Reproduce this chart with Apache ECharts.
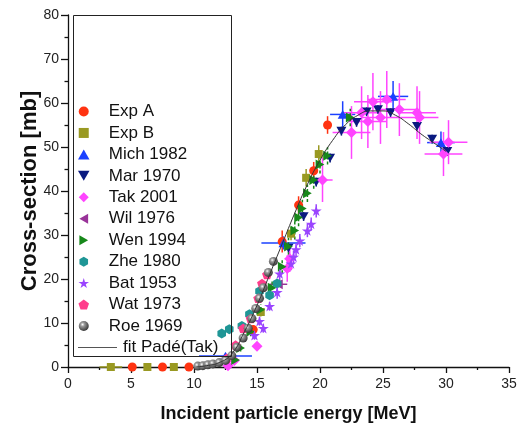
<!DOCTYPE html>
<html lang="en">
<head>
<meta charset="utf-8">
<title>Cross-section</title>
<script src="https://cdn.jsdelivr.net/npm/echarts@6/dist/echarts.min.js"></script>
<style>
    html, body, #chart {
        width: 100%;
        height: 100%;
        margin: 0;
        padding: 0;
        overflow: hidden;
        background: #fff;
    }
</style>
</head>
<body>
<div id="chart"></div>
<script>
    // each point: [energy MeV, cross-section mb, x error, y error]
    var expA = [[5.1, 0, 0, 0], [7.5, 0, 0, 0], [9.6, 0, 0, 0], [14.7, 8.5, 0.2, 1], [17.0, 28.5, 0.2, 2.5],
        [18.3, 36.8, 0.2, 2], [19.5, 44.6, 0.2, 2], [20.6, 55, 0.2, 2]];
    var expB = [[3.4, 0, 0.9, 0], [6.3, 0, 0, 0], [8.4, 0, 0, 0], [15.3, 12.5, 0, 1], [17.7, 30.3, 0, 1.5],
        [18.9, 43, 0, 2], [19.9, 48.4, 0, 2]];
    var mich1982 = [[12.5, 2.5, 2.1, 0], [17.1, 28.2, 1.75, 1.5], [21.8, 57.4, 1.0, 3], [25.8, 61.5, 1.2, 3.5],
        [29.6, 51, 1.1, 2.5]];
    var mar1970 = [[17.5, 27, 0, 1], [18.7, 34.2, 0, 1], [19.7, 42, 0, 1], [20.8, 47.5, 0, 1], [21.7, 53.6, 0, 1],
        [22.9, 55.6, 0, 1], [23.7, 58, 0, 1], [24.6, 58.5, 0, 1], [25.6, 57.8, 0, 1], [27.7, 54.7, 0, 1],
        [28.9, 51.8, 0, 1], [30.1, 49, 0, 1]];
    var tak2001 = [[12.7, 0.3, 0.3, 0.5], [13.2, 1.5, 0.3, 0.5], [15.0, 4.7, 0.3, 0.7], [17.4, 22.4, 0.4, 3],
        [17.6, 24.6, 0.4, 3], [20.2, 42.5, 0.8, 5], [22.5, 53.3, 1.5, 6], [23.3, 57.8, 1.5, 6],
        [23.8, 55.8, 1.5, 6], [24.2, 60.3, 1.5, 6.5], [24.8, 56.7, 1.5, 6], [25.3, 60.8, 1.5, 6.5],
        [26.3, 58.5, 1.5, 6], [27.7, 57.8, 1.5, 6], [27.9, 56.7, 1.5, 6], [29.8, 48.4, 1.5, 5], [30.2, 51.1, 1.5, 5]];
    var wil1976 = [[16.7, 18.8, 0.7, 0]];
    var wen1994 = [[13.3, 1.6, 0, 0.5], [13.7, 4.3, 0, 0.8], [14.5, 8, 0, 1], [15.3, 13, 0, 1.2], [16.2, 18, 0, 1.5],
        [17.0, 22.8, 0, 1.5], [17.5, 27.4, 0, 2], [18.0, 31, 0, 2], [18.3, 34, 0, 2], [18.6, 36, 0, 2],
        [19.0, 39.5, 0, 2], [19.5, 42.5, 0, 2], [20.0, 46, 0, 2], [20.6, 48, 0, 2], [22.4, 56.7, 0, 2]];
    var zhe1980 = [[12.2, 7.6, 0, 0], [12.8, 8.6, 0, 0], [13.8, 9.3, 0, 0], [14.4, 12, 0, 0], [15.2, 17.2, 0, 0],
        [16.0, 16.3, 0, 0], [16.6, 19, 0, 0]];
    var bat1953 = [[14.8, 7.2, 0, 1], [15.2, 10.4, 0, 1], [15.5, 8.8, 0, 1], [16.0, 13.8, 0, 1], [16.6, 17, 0, 1.5],
        [16.8, 21.2, 0, 1.5], [17.7, 23.5, 0, 1.5], [17.9, 25, 0, 1.5], [18.1, 26.7, 0, 1.5], [18.4, 28.7, 0, 1.5],
        [19.0, 31, 0, 1.5], [19.3, 32.5, 0, 1.5], [19.7, 35.5, 0, 1.5]];
    var wat1973 = [[12.6, 2, 0, 0], [13.3, 5, 0, 0], [13.9, 8.8, 0, 0], [14.5, 11, 0, 0], [15.1, 15.6, 0, 0],
        [15.4, 19, 0, 0], [15.8, 21, 0, 0]];
    var roe1969 = [[10.3, 0.2, 0, 0], [10.7, 0.3, 0, 0], [11.1, 0.5, 0, 0], [11.5, 0.7, 0, 0], [12.0, 1.0, 0, 0],
        [12.5, 1.5, 0, 0], [13.0, 2.6, 0, 0], [13.4, 4.5, 0, 0], [13.9, 6.6, 0, 0], [14.3, 8.8, 0, 0],
        [14.6, 11, 0, 0], [14.9, 13.3, 0, 0], [15.2, 15.6, 0, 0], [15.5, 18, 0, 0], [15.9, 21.5, 0, 0],
        [16.3, 24, 0, 0]];
    var fitPade = [[10.2, 0], [11, 0.3], [12, 1], [13, 3], [14, 8], [15, 14], [16, 21], [17, 28], [18, 35],
        [19, 41.5], [20, 47], [21, 51.5], [22, 55], [23, 57.2], [24, 58.2], [25, 58.2], [26, 57.2],
        [27, 55.3], [28, 53], [29, 51], [30, 49]];

    var xTicks = { min: 0, max: 35, interval: 5 };
    var yTicks = { min: 0, max: 80, interval: 10 };

    var sphere = {
        type: 'radial', x: 0.38, y: 0.35, r: 0.65,
        colorStops: [{ offset: 0, color: '#ffffff' }, { offset: 0.3, color: '#9a9a9a' }, { offset: 1, color: '#3a3a3a' }]
    };
    // symbol shapes as paths so legend icons keep their aspect
    var upPath = 'path://M50,0L100,87L0,87Z';
    var downPath = 'path://M0,0L100,0L50,87Z';
    var leftPath = 'path://M0,50L87,0L87,100Z';
    var rightPath = 'path://M0,0L87,50L0,100Z';
    var squarePath = 'path://M0,0L100,0L100,100L0,100Z';
    var diamondPath = 'path://M50,0L100,50L50,100L0,50Z';
    var starPath = 'path://M50,0L61,35L98,35L68,57L79,91L50,70L21,91L32,57L2,35L39,35Z';
    var pentaPath = 'path://M50,0L98,35L79,91L21,91L2,35Z';
    var hexPath = 'path://M50,0L93,25L93,75L50,100L7,75L7,25Z';

    var sets = [
        { name: 'Exp A', data: expA, color: '#ff3311', symbol: 'circle', size: 9 },
        { name: 'Exp B', data: expB, color: '#999922', symbol: squarePath, size: 8 },
        { name: 'Mich 1982', data: mich1982, color: '#1a40ff', symbol: upPath, size: 10 },
        { name: 'Mar 1970', data: mar1970, color: '#0a1a80', symbol: downPath, size: 10 },
        { name: 'Tak 2001', data: tak2001, color: '#ff44ff', symbol: diamondPath, size: 11 },
        { name: 'Wil 1976', data: wil1976, color: '#993399', symbol: leftPath, size: 10 },
        { name: 'Wen 1994', data: wen1994, color: '#17881a', symbol: rightPath, size: 10, dashed: true },
        { name: 'Zhe 1980', data: zhe1980, color: '#1f9696', symbol: hexPath, size: 10 },
        { name: 'Bat 1953', data: bat1953, color: '#9a44ff', symbol: starPath, size: 11 },
        { name: 'Wat 1973', data: wat1973, color: '#ff3d8c', symbol: pentaPath, size: 10 },
        { name: 'Roe 1969', data: roe1969, color: sphere, symbol: 'circle', size: 9 }
    ];

    function errorSeries(data, color, dashed) {
        return {
            type: 'custom',
            silent: true,
            z: 1,
            encode: { x: 0, y: 1 },
            renderItem: function (params, api) {
                var x = api.value(0), y = api.value(1), dx = api.value(2), dy = api.value(3);
                var style = { stroke: color, lineWidth: 1.5, lineDash: dashed ? [3, 2] : null };
                var children = [];
                if (dx > 0) {
                    var a = api.coord([x - dx, y]), b = api.coord([x + dx, y]);
                    children.push({ type: 'line', shape: { x1: a[0], y1: a[1], x2: b[0], y2: b[1] }, style: style });
                }
                if (dy > 0) {
                    var c = api.coord([x, y - dy]), d = api.coord([x, y + dy]);
                    children.push({ type: 'line', shape: { x1: c[0], y1: c[1], x2: d[0], y2: d[1] }, style: style });
                }
                return { type: 'group', children: children };
            },
            data: data
        };
    }

    var series = [];
    sets.forEach(function (s) {
        var barColor = typeof s.color === 'string' ? s.color : '#555';
        series.push(errorSeries(s.data, barColor, s.dashed));
    });
    sets.forEach(function (s) {
        series.push({
            name: s.name,
            type: 'scatter',
            symbol: s.symbol,
            symbolSize: s.size,
            symbolKeepAspect: true,
            z: 3,
            itemStyle: { color: s.color, opacity: 1 },
            data: s.data.map(function (p) { return [p[0], p[1]]; })
        });
    });
    series.push({
        name: 'fit Padé(Tak)',
        type: 'line',
        symbol: 'none',
        smooth: true,
        z: 4,
        lineStyle: { color: '#333', width: 1 },
        data: fitPade
    });

    var chart = echarts.init(document.getElementById('chart'));
    chart.setOption({
        animation: false,
        backgroundColor: '#fff',
        textStyle: { fontFamily: 'Arial, "Liberation Sans", sans-serif' },
        grid: { left: 68, right: 22, top: 15, bottom: 59 },
        graphic: [{
            type: 'rect',
            shape: { x: 73.5, y: 15.5, width: 158, height: 341 },
            style: { fill: 'none', stroke: '#222', lineWidth: 1 },
            z: 10
        }, {
            // legend entry for the fit curve
            type: 'line',
            shape: { x1: 78, y1: 347.5, x2: 117, y2: 347.5 },
            style: { stroke: '#555', lineWidth: 1.2 },
            z: 10
        }, {
            type: 'text',
            x: 123,
            y: 347,
            style: {
                text: 'fit Padé(Tak)', fontSize: 17, fill: '#111', verticalAlign: 'middle',
                fontFamily: 'Arial, "Liberation Sans", sans-serif'
            },
            z: 10
        }],
        legend: {
            orient: 'vertical',
            left: 78,
            top: 103,
            padding: 0,
            itemWidth: 40,
            itemHeight: 10,
            itemGap: 4.45,
            textStyle: { fontSize: 17, color: '#111', lineHeight: 16 },
            data: sets.map(function (s) { return s.name; })
        },
        xAxis: {
            type: 'value',
            min: xTicks.min,
            max: xTicks.max,
            interval: xTicks.interval,
            name: 'Incident particle energy [MeV]',
            nameLocation: 'middle',
            nameGap: 38,
            nameTextStyle: { fontSize: 18, fontWeight: 'bold', color: '#111' },
            axisLine: { lineStyle: { color: '#111', width: 1.3 } },
            axisTick: { length: 6, lineStyle: { color: '#111', width: 1.3 } },
            minorTick: { show: true, splitNumber: 2, length: 3, lineStyle: { color: '#111', width: 1.3 } },
            splitLine: { show: false },
            axisLabel: { fontSize: 14, color: '#222', margin: 10 }
        },
        yAxis: {
            type: 'value',
            min: yTicks.min,
            max: yTicks.max,
            interval: yTicks.interval,
            name: 'Cross-section [mb]',
            nameLocation: 'middle',
            nameGap: 27,
            nameMoveOverlap: false,
            nameTextStyle: { fontSize: 22, fontWeight: 'bold', color: '#111' },
            axisLine: { lineStyle: { color: '#111', width: 1.3 } },
            axisTick: { length: 7, lineStyle: { color: '#111', width: 1.3 } },
            minorTick: { show: true, splitNumber: 2, length: 3.5, lineStyle: { color: '#111', width: 1.3 } },
            splitLine: { show: false },
            axisLabel: { fontSize: 14, color: '#222', margin: 9 }
        },
        series: series
    });
</script>
</body>
</html>
